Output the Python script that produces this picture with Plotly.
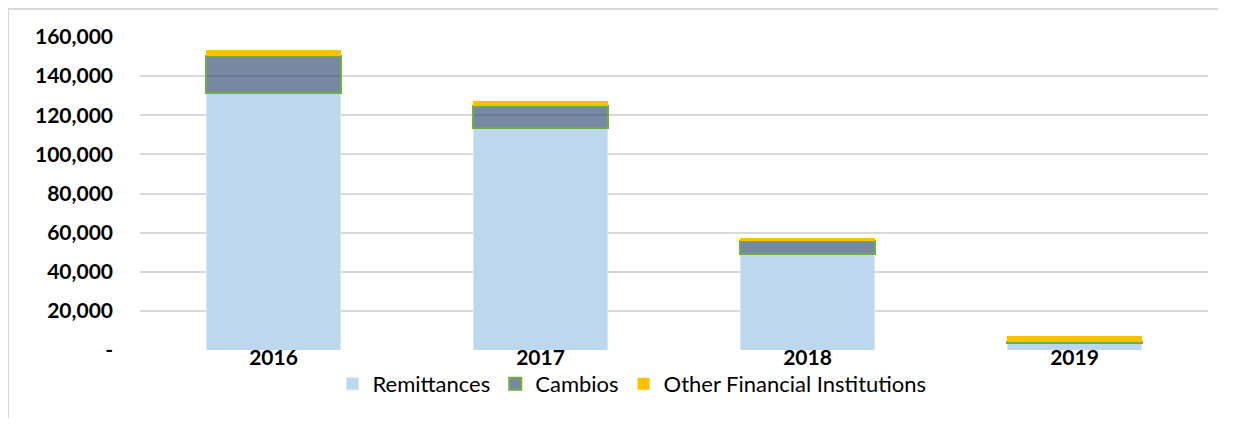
import plotly.graph_objects as go

years = ["2016", "2017", "2018", "2019"]
remittances = [131400, 113500, 48900, 3600]
cambios = [18900, 11200, 6800, 700]
other_fi = [3000, 2600, 1400, 2850]
tick_vals = [0, 20000, 40000, 60000, 80000, 100000, 120000, 140000, 160000]
tick_text = ["-", "20,000", "40,000", "60,000", "80,000", "100,000", "120,000", "140,000", "160,000"]

# page body has an 8px margin; work in page pixels and convert
OFF = 8
W, H = 1210, 410
L, R = 140 - OFF, W - (1208 - OFF)
T, B = 37 - OFF, H - (350 - OFF)
pw, ph = W - L - R, H - T - B

fig = go.Figure()
fig.add_trace(go.Bar(x=years, y=remittances, name="Remittances",
                     marker=dict(color="#BDD7EE", line=dict(color="#D6E6F5", width=1))))
fig.add_trace(go.Bar(x=years, y=cambios, name="Cambios",
                     marker=dict(color="rgba(31,56,100,0.6)", line=dict(color="#70AD47", width=2))))
fig.add_trace(go.Bar(x=years, y=other_fi, name="Other Financial Institutions",
                     marker=dict(color="#FFC000", line=dict(width=0))))

def px_x(p):
    return (p - OFF - L) / pw

def px_y(p):
    return (H - B - (p - OFF)) / ph

fig.update_layout(
    width=W, height=H,
    barmode="stack", bargap=0.495,
    margin=dict(l=L, r=R, t=T, b=B, autoexpand=False),
    paper_bgcolor="white", plot_bgcolor="white",
    font=dict(family="Lato, Open Sans, sans-serif", color="#000000"),
    showlegend=True,
    legend=dict(orientation="h", x=px_x(632), xanchor="center", y=px_y(384), yanchor="middle",
                font=dict(size=22, family="Lato, sans-serif", color="#000000"),
                traceorder="normal", itemwidth=30, bgcolor="rgba(0,0,0,0)"),
    xaxis=dict(showgrid=False, showline=False, ticks="", ticklabelstandoff=-7,
               tickfont=dict(size=21, family="Lato, sans-serif", color="#000000", weight="bold")),
    yaxis=dict(range=[0, 160000], tickvals=tick_vals, ticktext=tick_text,
               showgrid=True, gridcolor="#D9D9D9", gridwidth=1.5, zeroline=False,
               showline=False, ticks="", ticklabelstandoff=26,
               tickfont=dict(size=21, family="Lato, sans-serif", color="#000000", weight="bold")),
    shapes=[
        dict(type="line", xref="paper", yref="paper", x0=px_x(8), x1=px_x(8), y0=px_y(9), y1=px_y(430),
             line=dict(color="#D9D9D9", width=2)),
        dict(type="line", xref="paper", yref="paper", x0=px_x(8), x1=px_x(1240), y0=px_y(9), y1=px_y(9),
             line=dict(color="#D9D9D9", width=2)),
    ],
)

fig.write_html("out.html")
